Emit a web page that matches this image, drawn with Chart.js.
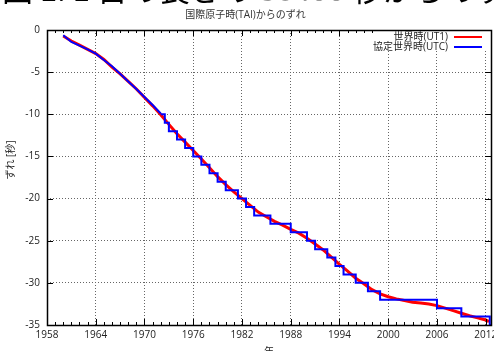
<!DOCTYPE html>
<html>
<head>
<meta charset="utf-8">
<script src="https://cdn.jsdelivr.net/npm/chart.js@4/dist/chart.umd.min.js"></script>
<style>
html, body { margin: 0; padding: 0; background: #fff; overflow: hidden; }
#wrap { position: relative; width: 494px; height: 351px; }
#big { position: absolute; left: 2px; top: -28px; font: 31px 'Noto Sans CJK JP', sans-serif; line-height: 31px; white-space: nowrap; color: #000; }
#big span { color: #999; }
</style>
</head>
<body>
<div id="wrap">
  <div id="big">図 1: 1 日の長さの <span>86400</span> 秒からのずれ</div>
  <canvas id="chart" width="494" height="351"></canvas>
</div>
<script>
// UT1 - TAI (seconds)
const ut1Years = [1960, 1961, 1962, 1963, 1964, 1965, 1966, 1967, 1968, 1969, 1970, 1971, 1972, 1973, 1974, 1975, 1976, 1977, 1978, 1979, 1980, 1981, 1982, 1983, 1984, 1985, 1986, 1987, 1988, 1989, 1990, 1991, 1992, 1993, 1994, 1995, 1996, 1997, 1998, 1999, 2000, 2001, 2002, 2003, 2004, 2005, 2006, 2007, 2008, 2009, 2010, 2011, 2012, 2012.4];
const ut1Values = [-0.7, -1.3, -1.8, -2.3, -2.8, -3.5, -4.4, -5.2, -6.1, -7.0, -8.0, -9.0, -10.05, -11.2, -12.3, -13.3, -14.3, -15.3, -16.35, -17.4, -18.35, -19.2, -20.0, -20.8, -21.6, -22.15, -22.7, -23.15, -23.65, -24.1, -24.7, -25.4, -26.1, -26.95, -27.8, -28.6, -29.45, -30.1, -30.8, -31.3, -31.65, -31.9, -32.1, -32.3, -32.4, -32.5, -32.7, -33.0, -33.3, -33.6, -33.9, -34.15, -34.4, -34.6];

// UTC - TAI before 1972 (rubber seconds)
const utcEarlyYears = [1960, 1961, 1962, 1963, 1964, 1965, 1966, 1967, 1968, 1969, 1970, 1971, 1972];
const utcEarlyValues = [-0.63, -1.42, -1.85, -2.3, -2.8, -3.55, -4.3, -5.2, -6.1, -7.0, -7.95, -8.9, -9.9];

// UTC - TAI after 1972 (leap seconds)
const leapYears = [1972, 1972.5, 1973, 1974, 1975, 1976, 1977, 1978, 1979, 1980, 1981.5, 1982.5, 1983.5, 1985.5, 1988, 1990, 1991, 1992.5, 1993.5, 1994.5, 1996, 1997.5, 1999, 2006, 2009, 2012.5, 2012.65];
const leapValues = [-10, -11, -12, -13, -14, -15, -16, -17, -18, -19, -20, -21, -22, -23, -24, -25, -26, -27, -28, -29, -30, -31, -32, -33, -34, -35, -35];

const xTicks = [1958, 1964, 1970, 1976, 1982, 1988, 1994, 2000, 2006, 2012];
const xMin = 1958, xMax = 2012.65;
const yMin = -35, yMax = 0;

const FONT = "'Open Sans', 'Noto Sans CJK JP', sans-serif";
const KEY_LEFT = 374;

const pts = (xs, ys) => xs.map((x, i) => ({ x: x, y: ys[i] }));

// opaque key box, frame, inward tick marks, legend, y label
const decorations = {
    id: 'decorations',
    beforeDatasetsDraw(chart) {
        const { ctx, chartArea: a } = chart;
        ctx.save();
        ctx.fillStyle = '#fff';
        ctx.fillRect(KEY_LEFT, a.top, a.right - KEY_LEFT, 21);
        ctx.restore();
    },
    afterDatasetsDraw(chart) {
        const { ctx, chartArea: a, scales: { x, y } } = chart;
        ctx.save();
        ctx.strokeStyle = '#000';
        ctx.lineWidth = 1;
        ctx.beginPath();
        for (let yr = Math.ceil(xMin); yr <= xMax; yr++) {
            const px = Math.round(x.getPixelForValue(yr)) + 0.5;
            const len = xTicks.includes(yr) ? 6 : 3;
            ctx.moveTo(px, a.bottom); ctx.lineTo(px, a.bottom - len);
            if (px < KEY_LEFT) { ctx.moveTo(px, a.top); ctx.lineTo(px, a.top + len); }
        }
        for (let v = yMin; v <= yMax; v += 5) {
            const py = Math.round(y.getPixelForValue(v)) + 0.5;
            ctx.moveTo(a.left, py); ctx.lineTo(a.left + 6, py);
            if (v < 0) { ctx.moveTo(a.right, py); ctx.lineTo(a.right - 6, py); }
        }
        ctx.stroke();
        ctx.lineWidth = 1.5;
        ctx.strokeRect(Math.round(a.left) + 0.5, Math.round(a.top) + 0.5, Math.round(a.right - a.left), Math.round(a.bottom - a.top));

        // legend
        ctx.font = '10px ' + FONT;
        ctx.textAlign = 'right';
        ctx.textBaseline = 'middle';
        ctx.fillStyle = '#222';
        [0, 1].forEach((i, row) => {
            const ds = chart.data.datasets[i];
            const ly = 37 + row * 10;
            ctx.fillText(ds.label, 448, ly);
            ctx.strokeStyle = ds.borderColor;
            ctx.lineWidth = 2;
            ctx.beginPath();
            ctx.moveTo(454, ly); ctx.lineTo(482, ly);
            ctx.stroke();
        });

        // y axis title
        ctx.translate(11, 160);
        ctx.rotate(-Math.PI / 2);
        ctx.textAlign = 'center';
        ctx.fillText('ずれ [秒]', 0, 0);
        ctx.restore();
    }
};

new Chart(document.getElementById('chart'), {
    type: 'scatter',
    data: {
        datasets: [
            { label: '世界時(UT1)', data: pts(ut1Years, ut1Values), showLine: true, borderColor: '#ff0000', borderWidth: 3, pointRadius: 0, order: 2 },
            { label: '協定世界時(UTC)', data: pts(utcEarlyYears, utcEarlyValues), showLine: true, borderColor: '#0000ff', borderWidth: 2, pointRadius: 0, order: 1 },
            { label: 'UTC leap', data: pts(leapYears, leapValues), showLine: true, stepped: 'before', borderColor: '#0000ff', borderWidth: 2, pointRadius: 0, order: 1 }
        ]
    },
    options: {
        responsive: false,
        animation: false,
        devicePixelRatio: 1,
        layout: { padding: { left: 0, right: 3, top: 0, bottom: 0 } },
        plugins: {
            legend: { display: false },
            tooltip: { enabled: false },
            title: {
                display: true,
                text: '国際原子時(TAI)からのずれ',
                color: '#333',
                font: { family: FONT, size: 10, weight: 'normal' },
                padding: { top: 9, bottom: 9 }
            }
        },
        scales: {
            x: {
                type: 'linear', min: xMin, max: xMax,
                afterBuildTicks: s => { s.ticks = xTicks.map(v => ({ value: v })); },
                afterFit: s => { s.height = 26; s.paddingLeft = 0; s.paddingRight = 0; },
                grid: { color: '#666', drawTicks: false, lineWidth: 1 },
                border: { display: false, dash: [1, 2] },
                ticks: { color: '#222', padding: 4, maxRotation: 0, autoSkip: false, font: { family: FONT, size: 10 }, callback: v => String(v) },
                title: { display: true, text: '年', color: '#222', font: { family: FONT, size: 10 }, padding: { top: 0, bottom: -7 } }
            },
            y: {
                min: yMin, max: yMax,
                afterFit: s => { s.width = 47; s.paddingTop = 0; s.paddingBottom = 0; },
                grid: { color: '#666', drawTicks: false, lineWidth: 1 },
                border: { display: false, dash: [1, 2] },
                ticks: { stepSize: 5, color: '#222', padding: 7, font: { family: FONT, size: 10 } }
            }
        }
    },
    plugins: [decorations]
});
</script>
</body>
</html>
